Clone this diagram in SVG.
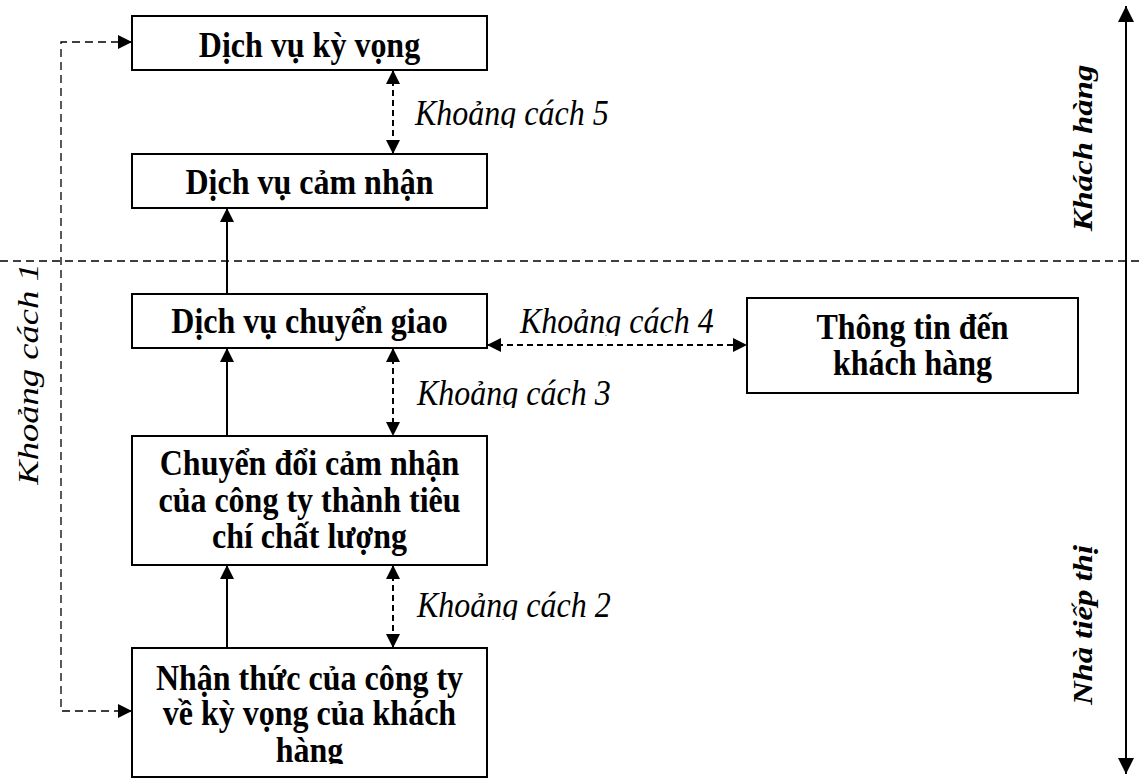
<svg xmlns="http://www.w3.org/2000/svg" width="1143" height="778" viewBox="0 0 1143 778">
<style>
.box{fill:#fff;stroke:#000;stroke-width:2}
.bt{font-family:"Liberation Serif","Times New Roman",serif;font-weight:bold;font-size:32px;text-anchor:middle;fill:#000}
.it{font-family:"Liberation Serif","Times New Roman",serif;font-style:italic;font-size:32px;fill:#000}
.bit{font-family:"Liberation Serif","Times New Roman",serif;font-style:italic;font-weight:bold;font-size:28px;text-anchor:middle;fill:#000}
.solid{fill:none;stroke:#000;stroke-width:2}
.gap{fill:none;stroke:#000;stroke-width:2;stroke-dasharray:6 4}
.thin{fill:none;stroke:#000;stroke-width:1.3;stroke-dasharray:8 5}
</style>
<defs>
<marker id="ah" viewBox="0 0 14 14" refX="14" refY="7" markerWidth="14" markerHeight="14" markerUnits="userSpaceOnUse" orient="auto-start-reverse"><path d="M0,0 L14,7 L0,14 z" fill="#000"/></marker>
<marker id="ahb" viewBox="0 0 16 16" refX="16" refY="8" markerWidth="16" markerHeight="16" markerUnits="userSpaceOnUse" orient="auto-start-reverse"><path d="M0,0 L16,8 L0,16 z" fill="#000"/></marker>
<clipPath id="c5"><rect x="400" y="90" width="250" height="38"/></clipPath>
<clipPath id="c4"><rect x="500" y="300" width="250" height="36"/></clipPath>
<clipPath id="c3"><rect x="400" y="370" width="250" height="38"/></clipPath>
<clipPath id="c2"><rect x="400" y="580" width="250" height="40"/></clipPath>
<clipPath id="cb5"><rect x="132" y="648" width="355" height="116"/></clipPath>
</defs>

<g id="connectors">
<line class="thin" x1="0" y1="261" x2="1143" y2="261"/>
<path class="thin" d="M132,42 H61 V711 H132" marker-start="url(#ah)" marker-end="url(#ah)"/>
<line class="solid" x1="227" y1="294" x2="227" y2="208" marker-end="url(#ah)"/>
<line class="solid" x1="227" y1="436" x2="227" y2="348" marker-end="url(#ah)"/>
<line class="solid" x1="227" y1="648" x2="227" y2="565" marker-end="url(#ah)"/>
<line class="gap" x1="393" y1="70" x2="393" y2="154" marker-start="url(#ah)" marker-end="url(#ah)"/>
<line class="gap" x1="393" y1="348" x2="393" y2="436" marker-start="url(#ah)" marker-end="url(#ah)"/>
<line class="gap" x1="393" y1="565" x2="393" y2="648" marker-start="url(#ah)" marker-end="url(#ah)"/>
<line class="gap" x1="487" y1="345" x2="747" y2="345" marker-start="url(#ah)" marker-end="url(#ah)"/>
<line class="solid" x1="1126" y1="6" x2="1126" y2="774" marker-start="url(#ahb)" marker-end="url(#ahb)"/>
<g clip-path="url(#c5)"><text class="it" transform="translate(415,125) scale(1,1.1)">Khoảng cách 5</text></g>
<g clip-path="url(#c4)"><text class="it" transform="translate(520,333) scale(1,1.1)">Khoảng cách 4</text></g>
<g clip-path="url(#c3)"><text class="it" transform="translate(417,405) scale(1,1.1)">Khoảng cách 3</text></g>
<g clip-path="url(#c2)"><text class="it" transform="translate(417,617) scale(1,1.1)">Khoảng cách 2</text></g>
<text class="it" style="font-size:30.5px;text-anchor:middle" transform="translate(38,374) rotate(-90) scale(1.2,1)">Khoảng cách 1</text>
<text class="bit" transform="translate(1092,148) rotate(-90) scale(1.17,1)">Khách hàng</text>
<text class="bit" transform="translate(1092,625) rotate(-90) scale(1.17,1)">Nhà tiếp thị</text>
</g>

<g id="node-ky-vong">
<rect class="box" x="132" y="16" width="355" height="54"/>
<text class="bt" transform="translate(309.5,57) scale(1,1.1)">Dịch vụ kỳ vọng</text>
</g>
<g id="node-cam-nhan">
<rect class="box" x="132" y="154" width="355" height="54"/>
<text class="bt" transform="translate(309.5,194) scale(1,1.1)">Dịch vụ cảm nhận</text>
</g>
<g id="node-chuyen-giao">
<rect class="box" x="132" y="294" width="355" height="54"/>
<text class="bt" transform="translate(309.5,333) scale(1,1.1)">Dịch vụ chuyển giao</text>
</g>
<g id="node-chuyen-doi">
<rect class="box" x="132" y="436" width="355" height="129"/>
<text class="bt" transform="translate(309.5,475) scale(1,1.1)">Chuyển đổi cảm nhận</text>
<text class="bt" transform="translate(309.5,512) scale(1,1.1)">của công ty thành tiêu</text>
<text class="bt" transform="translate(309.5,548) scale(1,1.1)">chí chất lượng</text>
</g>
<g id="node-nhan-thuc">
<rect class="box" x="132" y="648" width="355" height="129"/>
<g clip-path="url(#cb5)">
<text class="bt" transform="translate(309.5,690) scale(1,1.1)">Nhận thức của công ty</text>
<text class="bt" transform="translate(309.5,725) scale(1,1.1)">về kỳ vọng của khách</text>
<text class="bt" transform="translate(309.5,762) scale(1,1.1)">hàng</text>
</g>
</g>
<g id="node-thong-tin">
<rect class="box" x="747" y="298" width="331" height="95"/>
<text class="bt" transform="translate(912.5,339) scale(1,1.1)">Thông tin đến</text>
<text class="bt" transform="translate(912.5,375) scale(1,1.1)">khách hàng</text>
</g>
</svg>
